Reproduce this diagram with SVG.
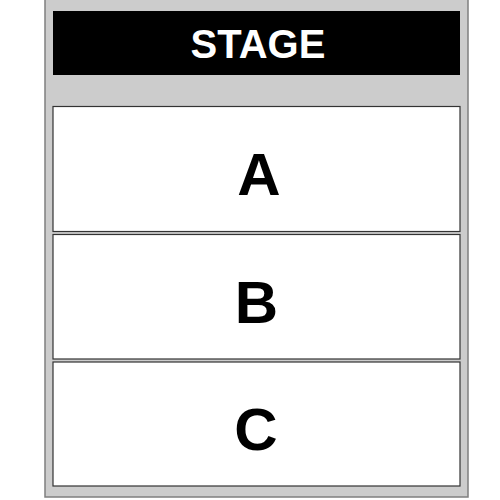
<svg xmlns="http://www.w3.org/2000/svg" width="500" height="500" viewBox="0 0 500 500">
<style>
.bg{fill:#cccccc;stroke:#7f7f7f;stroke-width:1.5}
.sec{fill:#ffffff;stroke:#333333;stroke-width:1.2}
.lbl{font-family:"Liberation Sans",Arial,sans-serif;font-weight:bold;text-anchor:middle}
</style>
<rect width="500" height="500" fill="#ffffff"/>
<g id="venue"><rect class="bg" x="45" y="-1" width="423" height="498"/></g>
<g id="stage">
<rect x="53" y="11" width="407" height="64" fill="#000000"/>
<text class="lbl" x="258" y="58" font-size="40" fill="#ffffff">STAGE</text>
</g>
<g id="sectionA">
<rect class="sec" x="53" y="106.5" width="407" height="125"/>
<text class="lbl" x="259" y="195" font-size="60" fill="#000000">A</text>
</g>
<g id="sectionB">
<rect class="sec" x="53" y="234.5" width="407" height="124.5"/>
<text class="lbl" x="256.5" y="323" font-size="60" fill="#000000">B</text>
</g>
<g id="sectionC">
<rect class="sec" x="53" y="362" width="407" height="124"/>
<text class="lbl" x="256" y="449.5" font-size="60" fill="#000000">C</text>
</g>
<g id="connectors"></g>
</svg>
